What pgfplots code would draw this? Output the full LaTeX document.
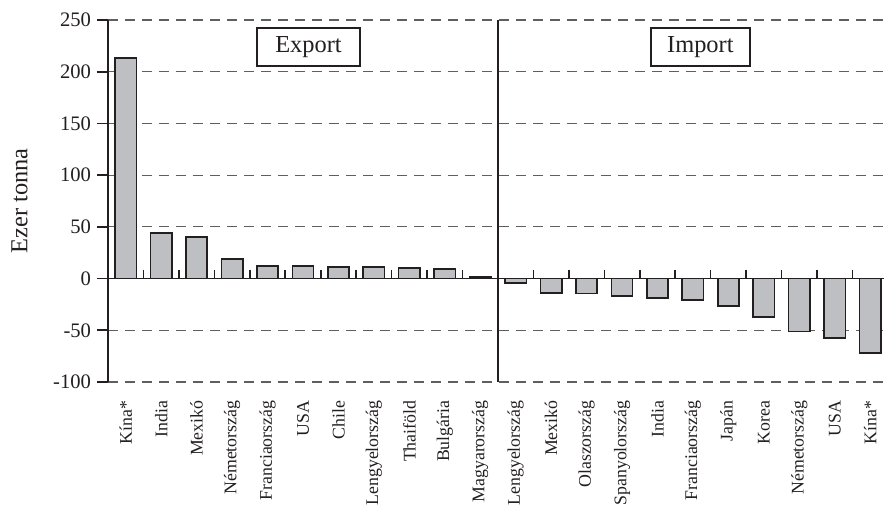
\documentclass[border=0pt]{standalone}
\usepackage{fontspec}
\setmainfont{Liberation Serif}
\usepackage{pgfplots}
\pgfplotsset{compat=1.18}

\definecolor{barfill}{RGB}{190,191,195}
\definecolor{ink}{RGB}{35,31,32}
\definecolor{gridc}{RGB}{95,95,95}

\newcommand\fbig{\fontsize{12.2}{14}\selectfont}
\newcommand\fmid{\fontsize{10.3}{12}\selectfont}
\newcommand\fsmall{\fontsize{8.9}{11}\selectfont}

\begin{document}
\begin{tikzpicture}
\begin{axis}[
    scale only axis,
    width=388pt, height=181pt,
    xmin=-0.5, xmax=21.39,
    ymin=-100, ymax=250,
    axis y line*=left,
    axis x line*=bottom,
    x axis line style={draw=none},
    y axis line style={ink, line width=0.8pt},
    tick align=outside,
    major tick length=5.5pt,
    ytick={-100,-50,50,100,150,200,250},
    extra y ticks={0},
    extra y tick style={major grid style={solid, ink, line width=0.8pt}},
    ymajorgrids,
    major grid style={gridc, line width=0.55pt, dash pattern=on 5pt off 3.5pt},
    ytick style={ink, line width=0.8pt},
    yticklabel style={font=\fmid, text=ink, inner xsep=2.8pt},
    xtick={0,...,21},
    xticklabels={Kína*, India, Mexikó, Németország, Franciaország, USA, Chile,
        Lengyelország, Thaiföld, Bulgária, Magyarország,
        Lengyelország, Mexikó, Olaszország, Spanyolország, India,
        Franciaország, Japán, Korea, Németország, USA, Kína*},
    xtick style={draw=none},
    xticklabel style={font=\fsmall, text=ink, rotate=90, anchor=east, inner xsep=3.6pt},
    extra x ticks={10.5},
    extra x tick labels={},
    extra x tick style={grid=major, major grid style={solid, ink, line width=0.8pt}},
    ylabel={Ezer tonna},
    every axis y label/.style={at={(axis description cs:-0.114,0.5)}, rotate=90,
        anchor=center, font=\fbig, text=ink},
    /pgf/number format/assume math mode=true,
]

% export (positive) and import (negative), thousand tonnes
\addplot[ybar, bar width=0.6, fill=barfill, draw=ink, line width=0.8pt] coordinates {
    (0,213) (1,44) (2,40) (3,19) (4,12) (5,12) (6,11) (7,11) (8,10) (9,9.5) (10,1.5)
    (11,-4) (12,-14) (13,-14.5) (14,-17) (15,-18.5) (16,-21) (17,-26.5)
    (18,-37) (19,-51) (20,-57.5) (21,-72)
};

% small category separators sitting on the zero line
\addplot[only marks, mark=|, mark size=2.25pt, mark options={ink, line width=0.8pt}] coordinates {
    (0.5,4.35) (1.5,4.35) (2.5,4.35) (3.5,4.35) (4.5,4.35) (5.5,4.35)
    (6.5,4.35) (7.5,4.35) (8.5,4.35) (9.5,4.35)
    (11.5,4.35) (12.5,4.35) (13.5,4.35) (14.5,4.35) (15.5,4.35)
    (16.5,4.35) (17.5,4.35) (18.5,4.35) (19.5,4.35) (20.5,4.35)
};

\node[draw=ink, line width=0.8pt, fill=white, font=\fbig, text=ink,
    inner xsep=9.1pt, inner ysep=4pt, text height=8.4pt, text depth=2.6pt]
    at (axis cs:5.156,224) {Export};
\node[draw=ink, line width=0.8pt, fill=white, font=\fbig, text=ink,
    inner xsep=8.1pt, inner ysep=4pt, text height=8.4pt, text depth=2.6pt]
    at (axis cs:16.21,224) {Import};
\end{axis}
\pgfresetboundingbox
\path (-54pt,-61.5pt) rectangle (388pt,191pt);
\end{tikzpicture}
\end{document}
